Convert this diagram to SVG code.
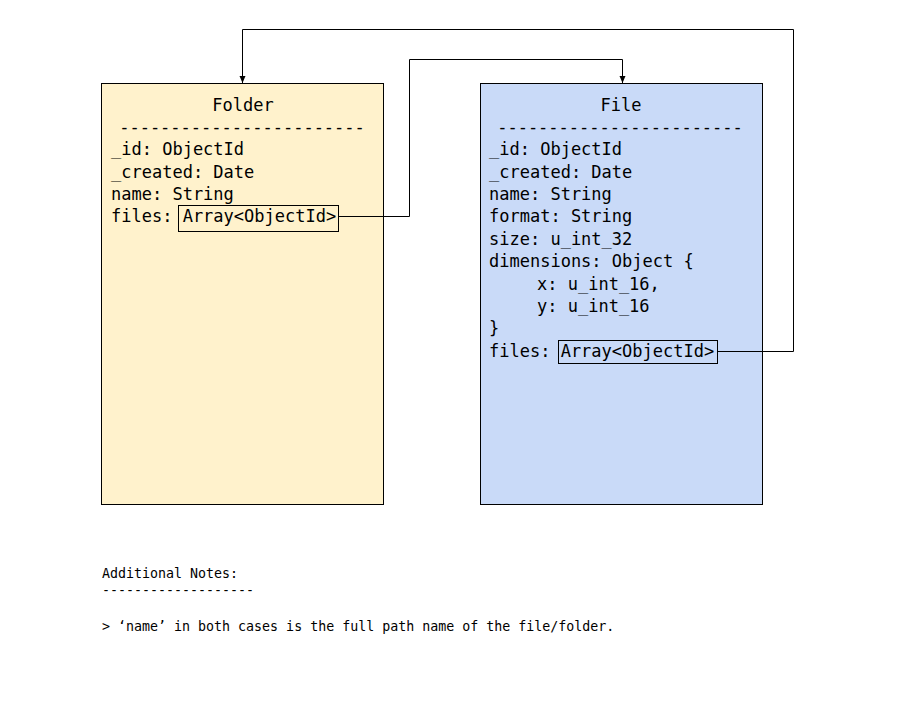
<svg xmlns="http://www.w3.org/2000/svg" width="909" height="708" viewBox="0 0 909 708">
<style>
.t{font-family:"DejaVu Sans Mono","Liberation Mono",monospace;font-size:17px;fill:#000}
.n{font-family:"DejaVu Sans Mono","Liberation Mono",monospace;font-size:13.3px;fill:#000}
.box{stroke:#000;stroke-width:1}
.ref{fill:none;stroke:#000;stroke-width:1}
.c{fill:none;stroke:#000;stroke-width:1}
</style>
<defs>
<marker id="ah" markerWidth="8" markerHeight="8" refX="7" refY="4" orient="auto" markerUnits="userSpaceOnUse">
<path d="M0,1 L7,4 L0,7 Z" fill="#000"/>
</marker>
</defs>
<rect width="909" height="708" fill="#fff"/>
<g id="folder">
<rect class="box" x="101.5" y="83.5" width="282" height="421" fill="#fff2cc"/>
<text class="t" x="243" y="111" text-anchor="middle">Folder</text>
<text class="t" x="242" y="133" text-anchor="middle">------------------------</text>
<text class="t" x="111" y="155">_id: ObjectId</text>
<text class="t" x="111" y="178">_created: Date</text>
<text class="t" x="111" y="200">name: String</text>
<text class="t" x="111" y="222">files: Array&lt;ObjectId&gt;</text>
<rect class="ref" x="178.5" y="205.5" width="160" height="26"/>
</g>
<g id="file">
<rect class="box" x="480.5" y="83.5" width="282" height="421" fill="#c9daf8"/>
<text class="t" x="621" y="111" text-anchor="middle">File</text>
<text class="t" x="620" y="133" text-anchor="middle">------------------------</text>
<text class="t" x="489" y="155">_id: ObjectId</text>
<text class="t" x="489" y="178">_created: Date</text>
<text class="t" x="489" y="200">name: String</text>
<text class="t" x="489" y="222">format: String</text>
<text class="t" x="489" y="245">size: u_int_32</text>
<text class="t" x="489" y="267">dimensions: Object {</text>
<text class="t" x="537" y="290">x: u_int_16,</text>
<text class="t" x="537" y="312">y: u_int_16</text>
<text class="t" x="489" y="334">}</text>
<text class="t" x="489" y="357">files: Array&lt;ObjectId&gt;</text>
<rect class="ref" x="558.5" y="340.5" width="159" height="23"/>
</g>
<g id="connectors">
<path class="c" d="M338.5,216.5 H409.5 V59.5 H622.5 V83" marker-end="url(#ah)"/>
<path class="c" d="M717.5,351.5 H793.5 V29.5 H242.5 V83" marker-end="url(#ah)"/>
</g>
<g id="notes">
<text class="n" x="102" y="578">Additional Notes:</text>
<text class="n" x="102" y="595">-------------------</text>
<text class="n" x="102" y="631">&gt; ‘name’ in both cases is the full path name of the file/folder.</text>
</g>
</svg>
